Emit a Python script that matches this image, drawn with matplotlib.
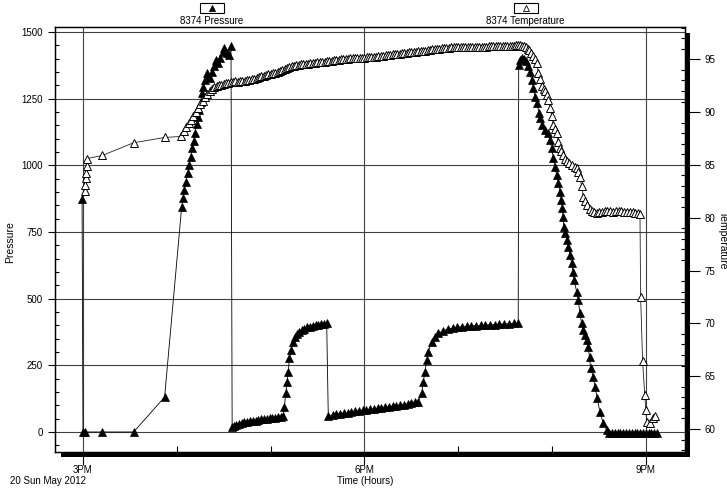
import matplotlib
matplotlib.use("Agg")
import matplotlib.pyplot as plt
from matplotlib.patches import Rectangle
from matplotlib.lines import Line2D
from matplotlib.ticker import MultipleLocator, FixedLocator

plt.rcParams['font.family'] = ['Liberation Sans', 'DejaVu Sans']
plt.rcParams['font.size'] = 7

# Pressure (psi) vs time (hours of day)
p_hours = [
    14.99, 15.00, 15.02, 15.20, 15.54, 15.87,
    16.052, 16.069, 16.080, 16.098, 16.116, 16.130, 16.148, 16.165, 16.180, 16.194,
    16.212, 16.226, 16.240, 16.255, 16.269, 16.283, 16.301, 16.319, 16.336, 16.354,
    16.375, 16.397, 16.418, 16.442, 16.461, 16.489, 16.503, 16.532, 16.560, 16.578,
    16.59, 16.61, 16.63, 16.66, 16.69, 16.72, 16.75, 16.78, 16.81, 16.84,
    16.87, 16.90, 16.93, 16.96, 16.99, 17.02, 17.05, 17.08, 17.11, 17.135,
    17.147, 17.162, 17.175, 17.189, 17.200, 17.218, 17.243, 17.26, 17.28, 17.30,
    17.33, 17.36, 17.39, 17.42, 17.45, 17.48, 17.51, 17.54, 17.57, 17.598,
    17.615, 17.66, 17.70, 17.74, 17.78, 17.82, 17.86, 17.90, 17.94, 17.98,
    18.02, 18.06, 18.10, 18.14, 18.18, 18.22, 18.26, 18.30, 18.34, 18.38,
    18.42, 18.46, 18.50, 18.54, 18.575,
    18.611, 18.628, 18.646, 18.664, 18.681, 18.717, 18.75, 18.79, 18.84, 18.89,
    18.94, 18.99, 19.04, 19.09, 19.14, 19.19, 19.24, 19.29, 19.34, 19.39,
    19.44, 19.49, 19.54, 19.59, 19.64,
    19.645, 19.66, 19.68, 19.70, 19.72, 19.745, 19.765, 19.783, 19.80, 19.819,
    19.837, 19.865, 19.872, 19.89, 19.925, 19.961, 19.979, 19.997, 20.014, 20.032,
    20.05, 20.067, 20.085, 20.10, 20.11, 20.118, 20.126, 20.14, 20.157, 20.174,
    20.192, 20.21, 20.224, 20.235, 20.263, 20.28, 20.298, 20.316, 20.333, 20.35,
    20.37, 20.387, 20.40, 20.412, 20.44, 20.458, 20.483, 20.51, 20.547, 20.583,
    20.61, 20.64, 20.67, 20.70, 20.73, 20.76, 20.79, 20.82, 20.85, 20.88,
    20.91, 20.94, 20.97, 21.00, 21.03, 21.06, 21.09, 21.115,
]
p_psi = [
    875, 0, 0, 0, 0, 131,
    844, 878, 908, 938, 971, 1001, 1031, 1065, 1091, 1121,
    1155, 1181, 1208, 1238, 1271, 1294, 1320, 1346, 1331, 1328,
    1350, 1373, 1395, 1384, 1403, 1425, 1440, 1421, 1414, 1448,
    18, 24, 28, 31, 34, 36, 38, 40, 42, 43,
    45, 47, 48, 50, 51, 53, 54, 56, 57, 60,
    95, 145, 189, 226, 276, 307, 339, 355, 366, 374,
    382, 388, 392, 395, 398, 400, 402, 404, 406, 407,
    60, 64, 67, 69, 71, 73, 75, 77, 79, 81,
    83, 85, 87, 89, 91, 93, 95, 97, 99, 101,
    103, 105, 108, 111, 114,
    145, 189, 226, 270, 301, 339, 358, 370, 380, 386,
    390, 393, 395, 397, 398, 399, 400, 401, 402, 403,
    404, 405, 406, 407, 408,
    1376, 1395, 1403, 1398, 1390, 1372, 1351, 1320, 1289, 1257,
    1233, 1195, 1176, 1151, 1133, 1120, 1095, 1064, 1026, 995,
    964, 933, 901, 870, 839, 807, 770, 745, 720, 695,
    664, 633, 600, 570, 526, 495, 445, 408, 383, 364,
    345, 320, 280, 239, 207, 170, 126, 76, 33, 8,
    -2, -3, -2, -2, -3, -2, -2, -3, -2, -2,
    -3, -2, -2, -3, -2, -2, -3, -2,
]

# Temperature (deg) vs time (hours of day)
t_hours = [
    15.02, 15.025, 15.03, 15.035, 15.04, 15.045, 15.206, 15.54, 15.87, 16.05,
    16.075, 16.10, 16.125, 16.15, 16.175, 16.20, 16.225, 16.25, 16.275, 16.30,
    16.325, 16.35, 16.375, 16.40, 16.425, 16.45, 16.475, 16.50, 16.525, 16.55,
    16.575, 16.60, 16.625, 16.65, 16.675, 16.70, 16.725, 16.75, 16.775, 16.80,
    16.825, 16.85, 16.875, 16.90, 16.925, 16.95, 16.975, 17.00, 17.025, 17.05,
    17.075, 17.10, 17.125, 17.15, 17.175, 17.20, 17.225, 17.25, 17.275, 17.30,
    17.325, 17.35, 17.375, 17.40, 17.425, 17.45, 17.475, 17.50, 17.525, 17.55,
    17.575, 17.60, 17.625, 17.65, 17.675, 17.70, 17.725, 17.75, 17.775, 17.80,
    17.825, 17.85, 17.875, 17.90, 17.925, 17.95, 17.975, 18.00, 18.025, 18.05,
    18.075, 18.10, 18.125, 18.15, 18.175, 18.20, 18.225, 18.25, 18.275, 18.30,
    18.325, 18.35, 18.375, 18.40, 18.425, 18.45, 18.475, 18.50, 18.525, 18.55,
    18.575, 18.60, 18.625, 18.65, 18.675, 18.70, 18.725, 18.75, 18.775, 18.80,
    18.825, 18.85, 18.875, 18.90, 18.925, 18.95, 18.975, 19.00, 19.025, 19.05,
    19.075, 19.10, 19.125, 19.15, 19.175, 19.20, 19.225, 19.25, 19.275, 19.30,
    19.325, 19.35, 19.375, 19.40, 19.425, 19.45, 19.475, 19.50, 19.525, 19.55,
    19.575, 19.60, 19.62, 19.64, 19.66, 19.68, 19.70, 19.72, 19.74, 19.76,
    19.78, 19.80, 19.82, 19.837, 19.855, 19.872, 19.89, 19.91, 19.925, 19.943,
    19.961, 19.979, 19.997, 20.014, 20.032, 20.05, 20.067, 20.085, 20.10, 20.12,
    20.14, 20.157, 20.18, 20.21, 20.24, 20.263, 20.28, 20.298, 20.316, 20.333,
    20.35, 20.37, 20.40, 20.423, 20.45, 20.476, 20.50, 20.53, 20.56, 20.59,
    20.62, 20.65, 20.68, 20.71, 20.74, 20.77, 20.80, 20.83, 20.86, 20.89,
    20.915, 20.938, 20.945, 20.966, 20.99, 21.00, 21.01, 21.045, 21.08, 21.098,
]
t_deg = [
    82.5, 83.1, 83.8, 84.2, 84.9, 85.6, 85.9, 87.1, 87.6, 87.7,
    88.2, 88.6, 89.0, 89.3, 89.65, 90.0, 90.4, 90.8, 91.1, 91.4,
    91.7, 92.0, 92.2, 92.35, 92.45, 92.55, 92.6, 92.7, 92.72, 92.8,
    92.82, 92.85, 92.9, 92.88, 92.92, 92.95, 92.98, 93.0, 93.06, 93.1,
    93.15, 93.25, 93.3, 93.4, 93.43, 93.5, 93.58, 93.65, 93.7, 93.75,
    93.83, 93.9, 94.0, 94.1, 94.18, 94.25, 94.33, 94.4, 94.46, 94.5,
    94.52, 94.55, 94.58, 94.6, 94.62, 94.65, 94.68, 94.7, 94.72, 94.75,
    94.78, 94.8, 94.84, 94.88, 94.92, 94.95, 94.97, 95.0, 95.03, 95.05,
    95.06, 95.08, 95.09, 95.1, 95.12, 95.14, 95.15, 95.17, 95.18, 95.2,
    95.22, 95.24, 95.26, 95.28, 95.3, 95.33, 95.37, 95.4, 95.44, 95.47,
    95.5, 95.52, 95.55, 95.57, 95.6, 95.62, 95.65, 95.67, 95.7, 95.72,
    95.75, 95.77, 95.8, 95.83, 95.87, 95.9, 95.93, 95.96, 95.99, 96.02,
    96.04, 96.06, 96.08, 96.1, 96.12, 96.14, 96.15, 96.17, 96.17, 96.18,
    96.19, 96.19, 96.2, 96.2, 96.2, 96.2, 96.21, 96.2, 96.2, 96.21,
    96.22, 96.22, 96.22, 96.23, 96.24, 96.24, 96.25, 96.26, 96.27, 96.28,
    96.29, 96.3, 96.35, 96.4, 96.35, 96.3, 96.25, 96.15, 96.0, 95.85,
    95.6, 95.3, 95.0, 94.66, 93.7, 93.1, 92.45, 92.2, 91.97, 91.6,
    91.18, 90.4, 89.6, 88.8, 88.4, 88.0, 87.2, 86.6, 86.3, 85.97,
    85.6, 85.34, 85.15, 85.02, 84.85, 84.7, 84.3, 83.9, 82.97, 82.0,
    81.6, 81.2, 80.85, 80.6, 80.5, 80.45, 80.5, 80.55, 80.6, 80.62,
    80.6, 80.58, 80.6, 80.62, 80.6, 80.55, 80.55, 80.52, 80.5, 80.48,
    80.45, 80.38, 72.5, 66.4, 63.2, 61.8, 60.7, 60.57, 61.0, 61.2,
]

x_ticks = [15, 18, 21]
x_labels = ['3PM', '6PM', '9PM']
p_ticks = [0, 250, 500, 750, 1000, 1250, 1500]
t_ticks = [60, 65, 70, 75, 80, 85, 90, 95]

W, H = 727, 488
fig = plt.figure(figsize=(W / 100, H / 100), dpi=100)


def fx(px):
    return px / W


def fy(py):
    return 1 - py / H


# plot frame in pixels
L, R, T, B = 55, 685, 27, 452
ax = fig.add_axes([fx(L), fy(B), fx(R) - fx(L), fy(T) - fy(B)])

# drop shadow on right and bottom
fig.add_artist(Rectangle((fx(L + 6), fy(B + 5)), fx(R + 5) - fx(L + 6), fy(T + 6) - fy(B + 5),
                         transform=fig.transFigure, facecolor='black', edgecolor='none', zorder=-1))

ax.set_xlim(14.7015, 21.418)
ax.set_ylim(-75, 1518.75)
ax.set_xticks(x_ticks)
ax.set_xticklabels(x_labels)
ax.xaxis.set_minor_locator(FixedLocator([16, 17, 19, 20]))
ax.set_yticks(p_ticks)
ax.yaxis.set_minor_locator(MultipleLocator(50))
ax.grid(True, which='major', color='#404040', lw=0.8)
ax.set_axisbelow(True)

ax.tick_params(axis='y', which='major', direction='out', length=5, width=0.8, pad=4)
ax.tick_params(axis='y', which='minor', direction='in', length=3, width=0.8)
ax.tick_params(axis='x', which='major', direction='out', length=9, width=0.8, pad=0.5)
ax.tick_params(axis='x', which='minor', direction='in', length=4, width=0.8)
for s in ax.spines.values():
    s.set_linewidth(1.0)

ax.plot(p_hours, p_psi, color='black', lw=0.6, marker='^', ms=5.8,
        mfc='black', mec='black', mew=0.5)

ax2 = ax.twinx()
ax2.set_ylim(57.82, 98.06)
ax2.set_yticks(t_ticks)
ax2.yaxis.set_minor_locator(MultipleLocator(1))
ax2.tick_params(axis='y', which='major', direction='out', length=11, width=0.8, pad=3)
ax2.tick_params(axis='y', which='minor', direction='in', length=3, width=0.8)
ax2.plot(t_hours, t_deg, color='#222222', lw=0.6, marker='^', ms=5.8,
         mfc='white', mec='black', mew=0.7)

# legend boxes at the top
for cx, face, label in [(212, 'black', '8374 Pressure'), (525.5, 'white', '8374 Temperature')]:
    fig.add_artist(Rectangle((fx(cx - 12), fy(13)), fx(24), fy(3) - fy(13),
                             transform=fig.transFigure, facecolor='white',
                             edgecolor='black', lw=0.8))
    fig.add_artist(Line2D([fx(cx)], [fy(8)], transform=fig.transFigure, marker='^',
                          ms=5, mfc=face, mec='black', mew=0.6, ls='none'))
    fig.text(fx(cx), fy(20.5), label, ha='center', va='center', fontsize=7)

fig.text(fx(10), fy(242), 'Pressure', rotation=90, ha='center', va='center', fontsize=7.5)
fig.text(fx(723), fy(240), 'Temperature', rotation=-90, ha='center', va='center', fontsize=7.5)
fig.text(fx(365), fy(481), 'Time (Hours)', ha='center', va='center', fontsize=7)
fig.text(fx(10), fy(481), '20 Sun May 2012', ha='left', va='center', fontsize=7)

fig.savefig('out.png', dpi=100)
